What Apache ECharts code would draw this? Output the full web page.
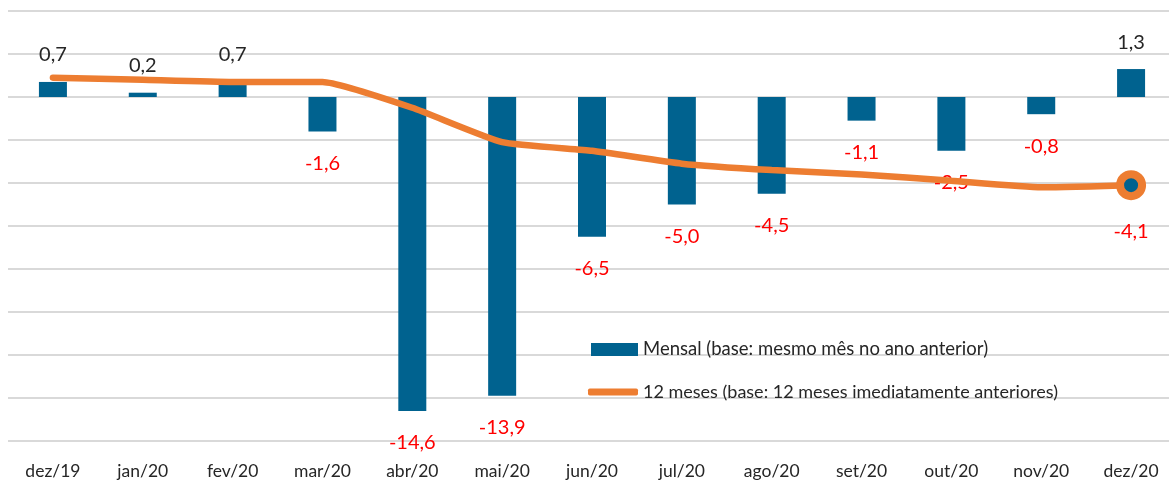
<!DOCTYPE html>
<html>
<head>
<meta charset="utf-8">
<script src="https://cdn.jsdelivr.net/npm/echarts@6/dist/echarts.min.js"></script>
<style>
  html, body { margin: 0; padding: 0; background: #ffffff; }
  #chart { width: 1169px; height: 481px; }
</style>
</head>
<body>
<div id="chart"></div>
<script>
// Meses do período
const meses = ['dez/19', 'jan/20', 'fev/20', 'mar/20', 'abr/20', 'mai/20', 'jun/20',
               'jul/20', 'ago/20', 'set/20', 'out/20', 'nov/20', 'dez/20'];

// Variação mensal (base: mesmo mês no ano anterior), %
const mensal = [0.7, 0.2, 0.7, -1.6, -14.6, -13.9, -6.5, -5.0, -4.5, -1.1, -2.5, -0.8, 1.3];

// Variação acumulada em 12 meses, %
const dozeMeses = [0.9, 0.8, 0.7, 0.7, -0.5, -2.1, -2.5, -3.1, -3.4, -3.6, -3.9, -4.2, -4.1];

const nomeMensal = 'Mensal (base: mesmo mês no ano anterior)';
const nomeDoze = '12 meses (base: 12 meses imediatamente anteriores)';

const FONTE = 'Lato, "Open Sans", sans-serif';
const AZUL = '#00628F';
const LARANJA = '#ED7D31';
const VERMELHO = '#FF0000';

const fmt = v => v.toFixed(1).replace('.', ',');

const barData = mensal.map(v => ({
  value: v,
  label: {
    position: v < 0 ? 'bottom' : 'top',
    distance: v < 0 ? 22 : 17,
    color: v < 0 ? VERMELHO : '#262626'
  }
}));

const lastIdx = dozeMeses.length - 1;
const lineData = dozeMeses.map((v, i) => {
  if (i !== lastIdx) return { value: v, symbol: 'none' };
  return {
    value: v,
    symbol: 'circle',
    symbolSize: 22,
    itemStyle: { color: AZUL, borderColor: LARANJA, borderWidth: 8 },
    label: {
      show: true,
      position: 'bottom',
      distance: 21,
      color: v < 0 ? VERMELHO : '#262626',
      fontFamily: FONTE,
      fontSize: 20,
      formatter: p => fmt(p.value)
    }
  };
});

const chart = echarts.init(document.getElementById('chart'), null, { renderer: 'canvas' });

chart.setOption({
  animation: false,
  backgroundColor: '#ffffff',
  textStyle: { fontFamily: FONTE },
  grid: { left: 8, top: 11, width: 1168, height: 430, containLabel: false, outerBoundsMode: 'none' },
  legend: [
    {
      data: [{ name: nomeMensal, icon: 'rect' }],
      left: 586, top: 335,
      itemWidth: 47, itemHeight: 13,
      textStyle: { fontFamily: FONTE, fontSize: 18.5, color: '#262626' },
      selectedMode: false
    },
    {
      data: [{ name: nomeDoze, icon: 'roundRect' }],
      left: 583, top: 378,
      itemWidth: 50, itemHeight: 7,
      textStyle: { fontFamily: FONTE, fontSize: 18, color: '#262626' },
      selectedMode: false
    }
  ],
  xAxis: {
    type: 'category',
    data: meses,
    axisLine: { show: false, onZero: false },
    axisTick: { show: false },
    axisLabel: { fontFamily: FONTE, fontSize: 17.5, color: '#262626', margin: 21 }
  },
  yAxis: {
    type: 'value',
    min: -16, max: 4, interval: 2,
    axisLine: { show: false },
    axisTick: { show: false },
    axisLabel: { show: false },
    splitLine: { lineStyle: { color: '#D9D9D9', width: 2 } }
  },
  series: [
    {
      name: nomeMensal,
      type: 'bar',
      data: barData,
      barWidth: 28,
      itemStyle: { color: AZUL },
      label: {
        show: true,
        fontFamily: FONTE,
        fontSize: 20,
        formatter: p => fmt(p.value)
      },
      z: 2
    },
    {
      name: nomeDoze,
      type: 'line',
      data: lineData,
      smooth: 0.15,
      showSymbol: true,
      itemStyle: { color: LARANJA },
      lineStyle: { color: LARANJA, width: 6.5, cap: 'round' },
      z: 3
    }
  ]
});
</script>
</body>
</html>
